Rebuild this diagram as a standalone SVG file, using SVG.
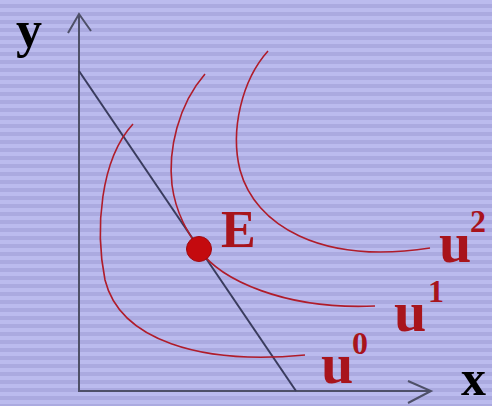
<svg xmlns="http://www.w3.org/2000/svg" width="492" height="406" viewBox="0 0 492 406">
  <defs>
    <pattern id="stripes" x="0" y="0" width="492" height="8" patternUnits="userSpaceOnUse">
      <rect x="0" y="0" width="492" height="8" fill="#abaae0"/>
      <rect x="0" y="0" width="492" height="4" fill="#bbbbee"/>
    </pattern>
    <style>
      .axis { fill: none; stroke: #4e5068; stroke-width: 2; }
      .budget { fill: none; stroke: #3a3c5e; stroke-width: 2; }
      .curve { fill: none; stroke: #b01c2a; stroke-width: 1.6; }
      .lbl { font-family: "Liberation Serif", "Times New Roman", serif; font-weight: bold; fill: #a8141c; }
      .ax { font-family: "Liberation Serif", "Times New Roman", serif; font-weight: bold; fill: #000; }
    </style>
  </defs>
  <rect x="0" y="0" width="492" height="406" fill="url(#stripes)"/>

  <g id="connectors">
    <g id="y-axis">
      <line class="axis" x1="79" y1="14" x2="79" y2="392"/>
      <polyline class="axis" points="68,33 79,14 91,31"/>
    </g>
    <g id="x-axis">
      <line class="axis" x1="79" y1="391" x2="431" y2="391"/>
      <polyline class="axis" points="408,381 431,391 408,403"/>
    </g>
    <line id="budget-line" class="budget" x1="79" y1="71" x2="296" y2="391"/>
  </g>

  <g id="u0">
    <path class="curve" d="M133,124 C100,160 95,230 105,280 C120,340 200,365 305,355"/>
    <text class="lbl" x="321" y="383" font-size="58">u</text>
    <text class="lbl" x="352" y="354" font-size="32">0</text>
  </g>
  <g id="u1">
    <path class="curve" d="M205,74 C178,105 168,150 172,185 C176,215 189,234 199,249 C220,280 285,310 375,306"/>
    <text class="lbl" x="394" y="331" font-size="58">u</text>
    <text class="lbl" x="428" y="302" font-size="32">1</text>
  </g>
  <g id="u2">
    <path class="curve" d="M268,51 C242,80 230,130 240,170 C255,225 320,265 430,248"/>
    <text class="lbl" x="439" y="262" font-size="58">u</text>
    <text class="lbl" x="470" y="232" font-size="32">2</text>
  </g>

  <g id="E">
    <circle cx="199" cy="249" r="12.5" fill="#c40a0e" stroke="#a00810" stroke-width="1"/>
    <text class="lbl" x="221" y="247" font-size="52">E</text>
  </g>

  <g id="y-label">
    <text class="ax" x="16" y="47" font-size="52">y</text>
  </g>
  <g id="x-label">
    <text class="ax" x="461" y="395" font-size="50">x</text>
  </g>
</svg>
